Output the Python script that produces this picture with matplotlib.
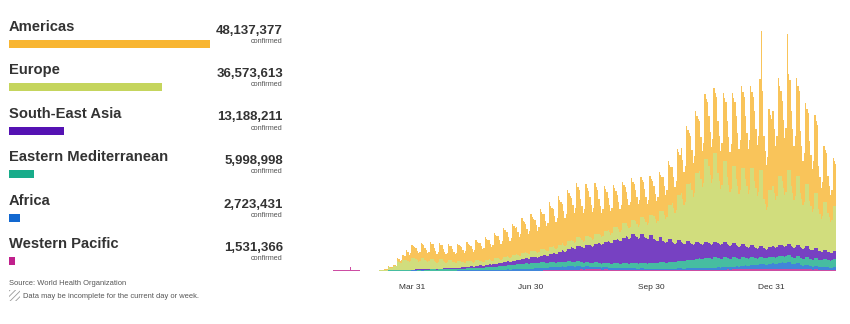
import numpy as np
import pandas as pd
import matplotlib
matplotlib.use("Agg")
from matplotlib import pyplot as plt
from matplotlib.colors import to_rgb
from matplotlib.patches import Rectangle

plt.rcParams["font.family"] = ["Liberation Sans", "DejaVu Sans"]
plt.rcParams["hatch.linewidth"] = 0.6

# regions, top of the list first (also top of the stack)
regions = ["Americas", "Europe", "South-East Asia", "Eastern Mediterranean", "Africa", "Western Pacific"]
confirmed = [48137377, 36573613, 13188211, 5998998, 2723431, 1531366]
colors = ["#f8b531", "#c5d55d", "#5512b3", "#18ac8a", "#1268d0", "#c0208c"]

# daily new cases, weekly level in thousands/day, weeks starting 2020-01-03
americas_wk = [0, 0, 0, 0, 0, 0, 0, 0, 0, 0.5, 3, 12, 35, 41, 44, 44, 42, 45, 50, 55,
               62, 69, 78, 83, 95, 100, 110, 122, 132, 140, 148, 140, 138, 122, 114, 113, 112, 110, 105, 105,
               118, 127, 159, 166, 176, 176, 184, 198, 222, 222, 247, 222, 265, 282, 265, 219, 212, 152, 131]
europe_wk = [0, 0, 0, 0, 0, 0, 0, 0.1, 0.8, 3, 12, 32, 35, 35, 32, 28, 25, 21, 19, 17,
             16, 16, 17, 18, 19, 20, 20, 21, 22, 25, 27, 28, 30, 33, 38, 43, 45, 53, 63, 81,
             106, 138, 173, 212, 254, 272, 247, 236, 233, 236, 233, 173, 212, 226, 212, 191, 169, 148, 138]
sear_wk = [0, 0, 0, 0, 0, 0, 0, 0, 0, 0, 0.05, 0.2, 0.6, 1.0, 1.6, 2.4, 3.4, 4.5, 5.6, 6.8,
           8, 10, 11.5, 13.5, 15, 18, 22, 27, 33, 40, 51, 56, 62, 71, 78, 85, 95, 95, 92, 84,
           75, 69, 65, 58, 54, 53, 53, 49, 46, 42, 38, 34, 37, 38, 38, 39, 36, 31, 28]
emr_wk = [0, 0, 0, 0, 0, 0, 0, 0.05, 0.3, 0.8, 1.2, 1.6, 2.5, 3.0, 3.5, 4.0, 4.8, 5.5, 6.5, 7.5,
          9, 11, 13, 16, 18.5, 19.5, 19, 18, 17.5, 17, 16, 15, 14.5, 15, 16, 17, 18, 19, 20, 21,
          23, 25, 28, 31, 34, 34, 33, 31, 29, 27, 25, 24, 24, 24, 24.5, 25, 25.5, 26, 27]
africa_wk = [0, 0, 0, 0, 0, 0, 0, 0, 0, 0, 0.05, 0.1, 0.2, 0.3, 0.4, 0.6, 0.8, 1.0, 1.3, 1.7,
             2.2, 2.8, 3.5, 4.5, 5.5, 7, 8.5, 10, 11.5, 12.5, 12, 10.5, 9, 7.5, 6.5, 6, 5.5, 5, 4.5, 4.5,
             4.5, 5, 5.5, 6, 6.5, 7, 8, 9.5, 11, 13, 15, 16, 19, 22, 18, 14, 11, 9, 8]
wpro_wk = [0, 0, 0.2, 1.5, 3.0, 3.2, 2.0, 0.6, 0.3, 0.5, 0.8, 1.0, 1.5, 1.5, 1.2, 1.0, 0.8, 0.7, 0.6, 0.7,
           0.8, 0.8, 0.9, 1.0, 1.1, 1.2, 1.5, 2.0, 2.8, 3.5, 4.5, 5.5, 6.0, 5.5, 5.0, 4.5, 4.5, 4.0, 3.5, 3.5,
           3.5, 3.5, 3.5, 3.5, 4.0, 4.5, 5.0, 5.5, 6.0, 6.5, 7.0, 7.5, 8.0, 8.0, 7.5, 6.5, 5.5, 5.0, 4.5]

# reporting rhythm within each week (day 0 = the week's first day)
americas_wd = [1.0, 0.85, 0.72, 0.8, 1.3, 1.2, 1.13]
europe_wd = [1.0, 0.9, 0.8, 0.85, 1.15, 1.15, 1.15]
other_wd = [1.0, 0.97, 0.93, 0.95, 1.05, 1.05, 1.05]

# single-day reporting spikes, thousands
spikes = {"2020-02-13": ("Western Pacific", 15.1),
          "2020-12-23": ("Americas", 490),
          "2021-01-12": ("Americas", 480)}

days = pd.date_range("2020-01-03", "2021-02-18", freq="D")
n = np.arange(len(days))

weekly = {"Americas": (americas_wk, americas_wd), "Europe": (europe_wk, europe_wd),
          "South-East Asia": (sear_wk, other_wd), "Eastern Mediterranean": (emr_wk, other_wd),
          "Africa": (africa_wk, other_wd), "Western Pacific": (wpro_wk, other_wd)}
daily = {}
for r, (wk, wd) in weekly.items():
    daily[r] = np.array(wk)[n // 7] * np.array(wd)[n % 7] * 1000
for d, (r, v) in spikes.items():
    daily[r][days.get_loc(pd.Timestamp(d))] = v * 1000


def lighten(c, a=0.8):
    # the chart bars are the legend colours at 80% over white
    return tuple(a * x + (1 - a) for x in to_rgb(c))


fig = plt.figure(figsize=(8.5, 3.24), dpi=100)

# stacked daily bars
ax = fig.add_axes([296.25 / 850, 53 / 324, 540.2 / 850, 241 / 324])
bottom = np.zeros(len(days))
for r, c in list(zip(regions, colors))[::-1]:
    ax.bar(days, daily[r], width=1.0, bottom=bottom, color=lighten(c), linewidth=0,
           antialiased=False)
    bottom += daily[r]
ax.set_xlim(days[0] - pd.Timedelta(hours=12), days[-1] + pd.Timedelta(hours=12))
ax.set_ylim(0, 850000)
ax.set_yticks([])
ticks = pd.to_datetime(["2020-03-31", "2020-06-30", "2020-09-30", "2020-12-31"])
ax.set_xticks(ticks)
ax.set_xticklabels(["Mar 31", "Jun 30", "Sep 30", "Dec 31"], fontsize=6, color="#333333")
ax.tick_params(axis="x", length=0, pad=9.5)
for s in ax.spines.values():
    s.set_visible(False)

# left panel: horizontal bars
row_pitch = 43.5
axb = fig.add_axes([9 / 850, 0, 201 / 850, 1])
axb.barh([43.5 + row_pitch * i for i in range(len(regions))], confirmed, height=8, color=colors)
axb.set_xlim(0, max(confirmed))
axb.set_ylim(324, 0)
axb.axis("off")

# left panel texts, pixel coordinates
axt = fig.add_axes([0, 0, 1, 1])
axt.set_xlim(0, 850)
axt.set_ylim(324, 0)
axt.axis("off")
for i, (r, v) in enumerate(zip(regions, confirmed)):
    base = 30.8 + row_pitch * i
    axt.text(9, base, r, fontsize=10.6, fontweight="bold", color="#333333", va="baseline")
    axt.text(283, base + 2.7, f"{v:,}", fontsize=9.5, fontweight="bold", color="#333333",
             va="baseline", ha="right")
    axt.text(283, base + 12, "confirmed", fontsize=5.2, color="#555555", va="baseline", ha="right")

axt.text(9, 285, "Source: World Health Organization", fontsize=5.4, color="#555555", va="baseline")
axt.add_patch(Rectangle((9.5, 290), 11, 10.5, facecolor="white", edgecolor="#999999",
                        hatch="//////", linewidth=0))
axt.text(23.5, 297.7, "Data may be incomplete for the current day or week.", fontsize=5.4,
         color="#555555", va="baseline")

fig.savefig("out.png", dpi=100)
